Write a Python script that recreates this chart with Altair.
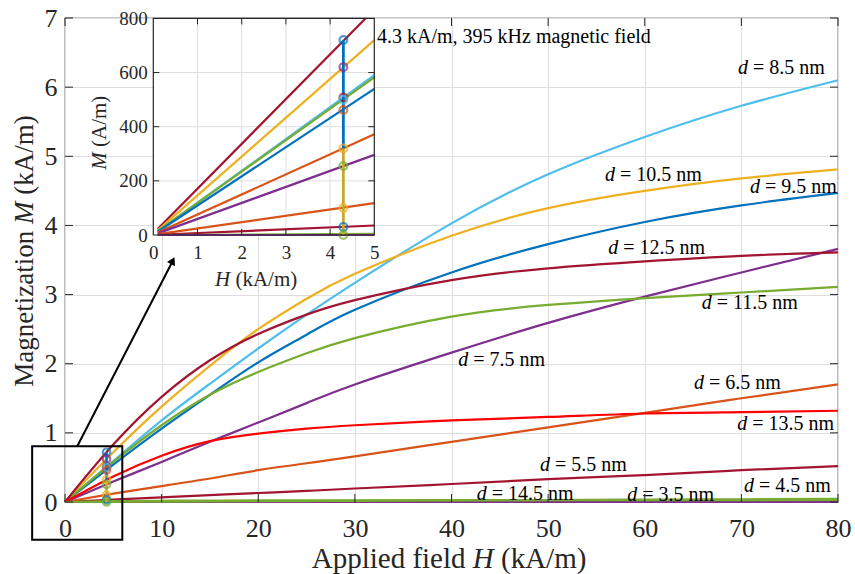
import altair as alt
import pandas as pd

FONT = "Liberation Serif"
AX = "#262626"
GRID = "#dedede"

# ---------------- main axes: M (kA/m) against H (kA/m) ----------------
H_KA = [0, 5, 10, 15, 20, 25, 30, 40, 50, 60, 70, 80]

M_3_5 = [0, 0, 0, 0, 0, 0, 0, 0, 0, 0, 0, 0]
M_4_5 = [0, 0.003, 0.006, 0.009, 0.012, 0.014, 0.017, 0.023, 0.029, 0.035, 0.040, 0.046]
M_5_5 = [0, 0.034, 0.068, 0.10, 0.13, 0.16, 0.195, 0.26, 0.33, 0.39, 0.46, 0.52]
M_6_5 = [0, 0.12, 0.23, 0.34, 0.46, 0.56, 0.66, 0.87, 1.08, 1.29, 1.50, 1.70]
M_7_5 = [0, 0.295, 0.58, 0.87, 1.15, 1.43, 1.70, 2.16, 2.59, 2.97, 3.32, 3.66]
M_8_5 = [0, 0.59, 1.18, 1.71, 2.22, 2.71, 3.17, 4.03, 4.74, 5.28, 5.73, 6.10]
M_9_5 = [0, 0.54, 1.06, 1.55, 2.02, 2.42, 2.78, 3.32, 3.73, 4.05, 4.29, 4.47]
M_10_5 = [0, 0.72, 1.38, 1.97, 2.50, 2.94, 3.30, 3.85, 4.25, 4.50, 4.68, 4.81]
M_11_5 = [0, 0.58, 1.11, 1.55, 1.88, 2.15, 2.37, 2.68, 2.85, 2.95, 3.03, 3.11]
M_12_5 = [0, 0.83, 1.52, 2.05, 2.43, 2.71, 2.92, 3.21, 3.38, 3.48, 3.56, 3.61]
M_13_5 = [0, 0.37, 0.67, 0.88, 0.99, 1.06, 1.11, 1.18, 1.23, 1.28, 1.30, 1.32]
M_14_5 = [0, 0.012, 0.018, 0.021, 0.023, 0.024, 0.025, 0.026, 0.027, 0.028, 0.028, 0.029]

SIZES = ["3.5", "4.5", "5.5", "6.5", "7.5", "8.5", "9.5", "10.5", "11.5", "12.5", "13.5", "14.5"]
CURVES = [M_3_5, M_4_5, M_5_5, M_6_5, M_7_5, M_8_5, M_9_5, M_10_5, M_11_5, M_12_5, M_13_5, M_14_5]
COLORS = ["#7E2F8E", "#77AC30", "#A2142F", "#D95319", "#7E2F8E", "#4DBEEE",
          "#0072BD", "#EDB120", "#77AC30", "#A2142F", "#FF0000", "#77AC30"]

# curve labels: left edge of the "d" and vertical centre, in data units
LABEL_SIZE = ["8.5", "10.5", "9.5", "12.5", "11.5", "7.5", "6.5", "13.5", "5.5", "14.5", "3.5", "4.5"]
LABEL_H = [69.65, 55.89, 70.89, 56.23, 65.89, 40.70, 65.10, 69.58, 49.16, 42.61, 58.19, 70.27]
LABEL_M = [6.276, 4.731, 4.561, 3.669, 2.873, 2.052, 1.723, 1.125, 0.531, 0.122, 0.097, 0.232]

X_TICKS = [0, 10, 20, 30, 40, 50, 60, 70, 80]
Y_TICKS = [0, 1, 2, 3, 4, 5, 6, 7]

# ---------------- inset: M (A/m) against H (kA/m) near the origin ----------------
INSET_SIZE = ["12.5", "10.5", "8.5", "11.5", "9.5", "13.5", "7.5", "6.5", "5.5", "4.5", "3.5"]
INSET_H0 = [0.1] * 11
INSET_M0 = [22, 17, 13, 14, 12, 9, 6, 3, 1, 0, 0]
INSET_H1 = [4.8, 5, 5, 5, 5, 5, 5, 5, 5, 5, 5]
INSET_M1 = [800, 720, 590, 582, 540, 372, 296, 118, 35, 4, 0]
INSET_COLORS = ["#A2142F", "#EDB120", "#4DBEEE", "#77AC30", "#0072BD", "#D95319",
                "#7E2F8E", "#D95319", "#A2142F", "#77AC30", "#7E2F8E"]
INSET_X_TICKS = [0, 1, 2, 3, 4, 5]
INSET_Y_TICKS = [0, 200, 400, 600, 800]

# operating point: 4.3 kA/m drive amplitude
FIELD_H = 4.3
POINT_M = [720, 620, 508, 500, 462, 320, 255, 100, 30, 0]          # A/m
POINT_COLORS = ["#0072BD", "#7E2F8E", "#A2142F", "#4DBEEE", "#D95319",
                "#EDB120", "#77AC30", "#EDB120", "#0072BD", "#77AC30"]
STEM_LO = [0, 320]
STEM_HI = [320, 720]
STEM_COLORS = ["#C9A82C", "#0072BD"]

# zoom box and arrow pointing to the inset (main data units)
BOX_H = [-3.4, 5.93]
BOX_M = [-0.545, 0.807]
ARROW_H = [1.27, 11.2]
ARROW_M = [0.807, 3.50]
HEAD_H = [11.15]
HEAD_M = [3.49]

NOTE_H = [32.29]
NOTE_M = [6.729]
NOTE_TEXT = ["4.3 kA/m, 395 kHz magnetic field"]

W, HT = 773, 484
TICK_FS = 26
LABEL_FS = 20

# ------------------------------------------------------------------
curve_rows = []
for d, vals, c in zip(SIZES, CURVES, COLORS):
    for h, m in zip(H_KA, vals):
        curve_rows.append({"d": d, "H": h, "M": m, "c": c})
curves_df = pd.DataFrame(curve_rows)

labels_df = pd.DataFrame({"H": LABEL_H, "M": LABEL_M,
                          "rest": ["= " + s + " nm" for s in LABEL_SIZE]})
points_df = pd.DataFrame({"H": [FIELD_H] * len(POINT_M), "Mi": POINT_M, "c": POINT_COLORS})
points_df["M"] = points_df["Mi"] / 1000.0
stem_df = pd.DataFrame({"H": [FIELD_H] * 2, "lo": STEM_LO, "hi": STEM_HI, "c": STEM_COLORS})
stem_df["lo_k"] = stem_df["lo"] / 1000.0
stem_df["hi_k"] = stem_df["hi"] / 1000.0


def main_x(field):
    return alt.X(f"{field}:Q", scale=alt.Scale(domain=[0, 80], nice=False, zero=False),
                 axis=alt.Axis(values=X_TICKS, grid=True, gridColor=GRID, gridWidth=1,
                               domain=False, ticks=False, tickSize=0, labelFlush=False,
                               labelFont=FONT, labelFontSize=TICK_FS, labelColor=AX,
                               labelPadding=13, title=None))


def main_y(field):
    return alt.Y(f"{field}:Q", scale=alt.Scale(domain=[0, 7], nice=False, zero=False),
                 axis=alt.Axis(values=Y_TICKS, grid=True, gridColor=GRID, gridWidth=1,
                               domain=False, ticks=False, tickSize=0, labelFlush=False,
                               labelFont=FONT, labelFontSize=TICK_FS, labelColor=AX,
                               labelPadding=8, title=None))


curves = alt.Chart(curves_df).mark_line(strokeWidth=2.2, interpolate="natural").encode(
    x=main_x("H"), y=main_y("M"),
    color=alt.Color("c:N", scale=None), detail="d:N")

lab_d = alt.Chart(labels_df).mark_text(
    text="d", font=FONT, fontSize=LABEL_FS, fontStyle="italic", align="left",
    baseline="middle", color="black").encode(x=main_x("H"), y=main_y("M"))
lab_rest = alt.Chart(labels_df).mark_text(
    font=FONT, fontSize=LABEL_FS, align="left", baseline="middle", dx=15,
    color="black").encode(x=main_x("H"), y=main_y("M"), text="rest:N")

stem = alt.Chart(stem_df).mark_rule(strokeWidth=2.5).encode(
    x=main_x("H"), y=main_y("lo_k"), y2="hi_k:Q", color=alt.Color("c:N", scale=None))
pts = alt.Chart(points_df).mark_point(filled=False, size=55, strokeWidth=2.2).encode(
    x=main_x("H"), y=main_y("M"), color=alt.Color("c:N", scale=None))

box_df = pd.DataFrame({"x0": [BOX_H[0]], "x1": [BOX_H[1]], "y0": [BOX_M[0]], "y1": [BOX_M[1]]})
box = alt.Chart(box_df).mark_rect(fill=None, stroke="black", strokeWidth=2).encode(
    x=main_x("x0"), x2="x1:Q", y=main_y("y0"), y2="y1:Q")

arrow_df = pd.DataFrame({"H": ARROW_H, "M": ARROW_M, "o": [0, 1]})
arrow = alt.Chart(arrow_df).mark_line(color="black", strokeWidth=2).encode(
    x=main_x("H"), y=main_y("M"), order="o:Q")
head = alt.Chart(pd.DataFrame({"H": HEAD_H, "M": HEAD_M})).mark_point(
    shape="triangle-up", filled=True, color="black", size=80, angle=27, opacity=1).encode(
    x=main_x("H"), y=main_y("M"))

note = alt.Chart(pd.DataFrame({"H": NOTE_H, "M": NOTE_M, "t": NOTE_TEXT})).mark_text(
    font=FONT, fontSize=LABEL_FS, align="left", baseline="middle", color="black").encode(
    x=main_x("H"), y=main_y("M"), text="t:N")

# inward tick marks on all four sides of the main box
xt_df = pd.DataFrame({"H": X_TICKS})
yt_df = pd.DataFrame({"M": Y_TICKS})
tick_b = alt.Chart(xt_df).mark_rule(color=AX, strokeWidth=1).encode(
    x=main_x("H"), y=alt.value(HT), y2=alt.value(HT - 8))
tick_t = alt.Chart(xt_df).mark_rule(color=AX, strokeWidth=1).encode(
    x=main_x("H"), y=alt.value(0), y2=alt.value(8))
tick_l = alt.Chart(yt_df).mark_rule(color=AX, strokeWidth=1).encode(
    y=main_y("M"), x=alt.value(0), x2=alt.value(8))
tick_r = alt.Chart(yt_df).mark_rule(color=AX, strokeWidth=1).encode(
    y=main_y("M"), x=alt.value(W), x2=alt.value(W - 8))

# axis titles with italic symbols
TITLE_FS_X = 29
TITLE_FS_Y = 27
xt1 = alt.Chart(pd.DataFrame({"t": ["Applied field"]})).mark_text(
    font=FONT, fontSize=TITLE_FS_X, align="left", baseline="alphabetic", color=AX).encode(
    x=alt.value(246.7), y=alt.value(549.7), text="t:N")
xt2 = alt.Chart(pd.DataFrame({"t": ["H"]})).mark_text(
    font=FONT, fontSize=TITLE_FS_X, fontStyle="italic", align="left", baseline="alphabetic",
    color=AX).encode(x=alt.value(407.8), y=alt.value(549.7), text="t:N")
xt3 = alt.Chart(pd.DataFrame({"t": ["(kA/m)"]})).mark_text(
    font=FONT, fontSize=TITLE_FS_X, align="left", baseline="alphabetic", color=AX).encode(
    x=alt.value(436.0), y=alt.value(549.7), text="t:N")
yt1 = alt.Chart(pd.DataFrame({"t": ["Magnetization"]})).mark_text(
    font=FONT, fontSize=TITLE_FS_Y, align="left", baseline="alphabetic", angle=270,
    color=AX).encode(x=alt.value(-32), y=alt.value(368.7), text="t:N")
yt2 = alt.Chart(pd.DataFrame({"t": ["M"]})).mark_text(
    font=FONT, fontSize=TITLE_FS_Y, fontStyle="italic", align="left", baseline="alphabetic",
    angle=270, color=AX).encode(x=alt.value(-32), y=alt.value(205.9), text="t:N")
yt3 = alt.Chart(pd.DataFrame({"t": ["(kA/m)"]})).mark_text(
    font=FONT, fontSize=TITLE_FS_Y, align="left", baseline="alphabetic", angle=270,
    color=AX).encode(x=alt.value(-32), y=alt.value(176.7), text="t:N")

main_layer = alt.layer(curves, stem, pts, lab_d, lab_rest, note, box, arrow, head,
                       tick_b, tick_t, tick_l, tick_r, xt1, xt2, xt3, yt1, yt2, yt3)

# ------------------------------------------------------------------
IX0, IX1 = 88.3, 309.3      # inset placement inside the main plot area (px)
IY0, IY1 = 217.0, 0.4


def inset_x(field):
    return alt.X(f"{field}:Q", scale=alt.Scale(domain=[0, 5], range=[IX0, IX1], nice=False, zero=False),
                 axis=alt.Axis(orient="bottom", offset=IY0 - HT, values=INSET_X_TICKS, grid=False,
                               domain=False, ticks=False, tickSize=0, labelFlush=False,
                               labelFont=FONT, labelFontSize=19, labelColor=AX,
                               labelPadding=8, title=None))


def inset_y(field):
    return alt.Y(f"{field}:Q", scale=alt.Scale(domain=[0, 800], range=[IY0, IY1], nice=False, zero=False),
                 axis=alt.Axis(orient="left", offset=-IX0, values=INSET_Y_TICKS, grid=False,
                               domain=False, ticks=False, tickSize=0, labelFlush=False,
                               labelFont=FONT, labelFontSize=19, labelColor=AX,
                               labelPadding=6, title=None))


frame_df = pd.DataFrame({"x0": [0], "x1": [5], "y0": [0], "y1": [800]})
inset_bg = alt.Chart(frame_df).mark_rect(fill="white", stroke=None).encode(
    x=inset_x("x0"), x2="x1:Q", y=inset_y("y0"), y2="y1:Q")
inset_frame = alt.Chart(frame_df).mark_rect(fill=None, stroke=AX, strokeWidth=1.2).encode(
    x=inset_x("x0"), x2="x1:Q", y=inset_y("y0"), y2="y1:Q")

igx_df = pd.DataFrame({"H": INSET_X_TICKS[1:-1], "lo": 0, "hi": 800})
igy_df = pd.DataFrame({"M": INSET_Y_TICKS[1:-1], "lo": 0, "hi": 5})
inset_gx = alt.Chart(igx_df).mark_rule(color=GRID, strokeWidth=1).encode(
    x=inset_x("H"), y=inset_y("lo"), y2="hi:Q")
inset_gy = alt.Chart(igy_df).mark_rule(color=GRID, strokeWidth=1).encode(
    y=inset_y("M"), x=inset_x("lo"), x2="hi:Q")

inset_rows = []
for d, h0, m0, h1, m1, c in zip(INSET_SIZE, INSET_H0, INSET_M0, INSET_H1, INSET_M1, INSET_COLORS):
    inset_rows.append({"d": d, "H": h0, "M": m0, "c": c})
    inset_rows.append({"d": d, "H": h1, "M": m1, "c": c})
inset_df = pd.DataFrame(inset_rows)
inset_lines = alt.Chart(inset_df).mark_line(strokeWidth=2.2).encode(
    x=inset_x("H"), y=inset_y("M"), color=alt.Color("c:N", scale=None), detail="d:N")

inset_stem = alt.Chart(stem_df).mark_rule(strokeWidth=2.8).encode(
    x=inset_x("H"), y=inset_y("lo"), y2="hi:Q", color=alt.Color("c:N", scale=None))
inset_pts = alt.Chart(points_df).mark_point(filled=False, size=60, strokeWidth=2.2).encode(
    x=inset_x("H"), y=inset_y("Mi"), color=alt.Color("c:N", scale=None))

ixt = pd.DataFrame({"H": INSET_X_TICKS[1:-1]})
iyt = pd.DataFrame({"M": INSET_Y_TICKS[1:-1]})
itick_b = alt.Chart(ixt).mark_rule(color=AX).encode(x=inset_x("H"), y=alt.value(IY0), y2=alt.value(IY0 - 6))
itick_t = alt.Chart(ixt).mark_rule(color=AX).encode(x=inset_x("H"), y=alt.value(IY1), y2=alt.value(IY1 + 6))
itick_l = alt.Chart(iyt).mark_rule(color=AX).encode(y=inset_y("M"), x=alt.value(IX0), x2=alt.value(IX0 + 6))
itick_r = alt.Chart(iyt).mark_rule(color=AX).encode(y=inset_y("M"), x=alt.value(IX1), x2=alt.value(IX1 - 6))

ixt1 = alt.Chart(pd.DataFrame({"t": ["H"]})).mark_text(
    font=FONT, fontSize=21, fontStyle="italic", align="left", baseline="alphabetic", color=AX).encode(
    x=alt.value(150), y=alt.value(268.2), text="t:N")
ixt2 = alt.Chart(pd.DataFrame({"t": ["(kA/m)"]})).mark_text(
    font=FONT, fontSize=21, align="left", baseline="alphabetic", color=AX).encode(
    x=alt.value(170.4), y=alt.value(268.2), text="t:N")
iyt1 = alt.Chart(pd.DataFrame({"t": ["M"]})).mark_text(
    font=FONT, fontSize=21, fontStyle="italic", align="left", baseline="alphabetic", angle=270,
    color=AX).encode(x=alt.value(40.6), y=alt.value(151.7), text="t:N")
iyt2 = alt.Chart(pd.DataFrame({"t": ["(A/m)"]})).mark_text(
    font=FONT, fontSize=21, align="left", baseline="alphabetic", angle=270, color=AX).encode(
    x=alt.value(40.6), y=alt.value(129.0), text="t:N")

inset_layer = alt.layer(inset_bg, inset_gx, inset_gy, inset_lines, inset_stem, inset_pts,
                        inset_frame, itick_b, itick_t, itick_l, itick_r, ixt1, ixt2, iyt1, iyt2)

chart = alt.layer(main_layer, inset_layer).resolve_scale(
    x="independent", y="independent"
).properties(
    width=W, height=HT,
    autosize=alt.AutoSizeParams(type="none"),
    padding={"left": 65, "top": 18, "right": 17, "bottom": 72},
    background="white",
).configure_view(stroke=AX, strokeWidth=1.2)

chart.save("out.html", embed_options={"renderer": "svg", "actions": False})
